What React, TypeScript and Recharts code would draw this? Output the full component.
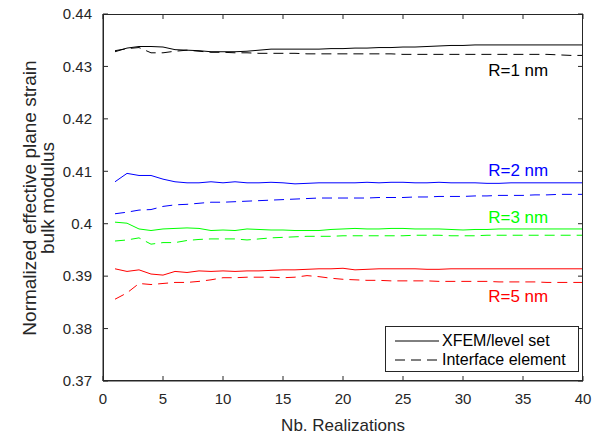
import {
  LineChart,
  Line,
  XAxis,
  YAxis,
  Legend,
  ReferenceDot,
  ReferenceLine,
} from 'recharts';

const realizations = [
  1, 2, 3, 4, 5, 6, 7, 8, 9, 10, 11, 12, 13, 14, 15, 16, 17, 18, 19, 20,
  21, 22, 23, 24, 25, 26, 27, 28, 29, 30, 31, 32, 33, 34, 35, 36, 37, 38, 39, 40,
];

// R = 1 nm
const r1Xfem = [
  0.4328, 0.4335, 0.4338, 0.4338, 0.4337, 0.4332, 0.4331, 0.433, 0.4328, 0.4328,
  0.4328, 0.4329, 0.4331, 0.4333, 0.4333, 0.4333, 0.4333, 0.4333, 0.4334, 0.4334,
  0.4335, 0.4335, 0.4336, 0.4336, 0.4337, 0.4337, 0.4338, 0.4339, 0.434, 0.434,
  0.4341, 0.4341, 0.4341, 0.4341, 0.4341, 0.4341, 0.4341, 0.4341, 0.4341, 0.4341,
];
const r1Interface = [
  0.433, 0.4334, 0.4336, 0.4326, 0.4326, 0.4329, 0.4331, 0.4329, 0.4327, 0.4327,
  0.4326, 0.4326, 0.4325, 0.4325, 0.4325, 0.4325, 0.4324, 0.4324, 0.4324, 0.4324,
  0.4324, 0.4324, 0.4324, 0.4324, 0.4323, 0.4323, 0.4323, 0.4323, 0.4323, 0.4323,
  0.4323, 0.4323, 0.4323, 0.4323, 0.4323, 0.4323, 0.4323, 0.4322, 0.4321, 0.4321,
];

// R = 2 nm
const r2Xfem = [
  0.408, 0.4096, 0.4092, 0.4092, 0.4085, 0.408, 0.4078, 0.4078, 0.408, 0.4078,
  0.408, 0.4078, 0.4078, 0.4079, 0.4078, 0.4076, 0.4077, 0.4078, 0.4078, 0.4078,
  0.4078, 0.4079, 0.4078, 0.4079, 0.4079, 0.4078, 0.4078, 0.4079, 0.4078, 0.4078,
  0.4078, 0.4077, 0.4077, 0.4078, 0.4078, 0.4078, 0.4078, 0.4078, 0.4078, 0.4078,
];
const r2Interface = [
  0.4019, 0.4022, 0.4026, 0.4027, 0.4033, 0.4036, 0.4037, 0.4039, 0.4041, 0.4041,
  0.4042, 0.4043, 0.4044, 0.4045, 0.4046, 0.4047, 0.4048, 0.4049, 0.4049, 0.4049,
  0.4049, 0.4049, 0.405, 0.405, 0.405, 0.4051, 0.4051, 0.4052, 0.4052, 0.4052,
  0.4053, 0.4053, 0.4054, 0.4054, 0.4054, 0.4055, 0.4055, 0.4056, 0.4056, 0.4056,
];

// R = 3 nm
const r3Xfem = [
  0.4003, 0.4001, 0.399, 0.3987, 0.399, 0.3991, 0.3992, 0.3991, 0.3987, 0.3988,
  0.3987, 0.399, 0.3989, 0.3988, 0.3988, 0.3987, 0.3987, 0.3987, 0.3989, 0.399,
  0.3991, 0.399, 0.399, 0.3991, 0.3991, 0.399, 0.399, 0.399, 0.3989, 0.3988,
  0.3989, 0.3989, 0.399, 0.399, 0.399, 0.399, 0.399, 0.399, 0.399, 0.399,
];
const r3Interface = [
  0.3967, 0.3969, 0.3973, 0.3961, 0.3964, 0.3964, 0.3968, 0.397, 0.3971, 0.3971,
  0.3971, 0.3969, 0.3971, 0.3973, 0.3974, 0.3975, 0.3976, 0.3976, 0.3976, 0.3977,
  0.3977, 0.3977, 0.3977, 0.3977, 0.3977, 0.3978, 0.3978, 0.3978, 0.3977, 0.3977,
  0.3977, 0.3978, 0.3978, 0.3978, 0.3978, 0.3978, 0.3978, 0.3978, 0.3978, 0.3978,
];

// R = 5 nm
const r5Xfem = [
  0.3914, 0.3909, 0.3912, 0.3904, 0.3902, 0.3909, 0.3907, 0.391, 0.3909, 0.391,
  0.3909, 0.391, 0.391, 0.3911, 0.3912, 0.3912, 0.3913, 0.3914, 0.3914, 0.3915,
  0.3912, 0.3913, 0.3914, 0.3914, 0.3914, 0.3914, 0.3913, 0.3913, 0.3914, 0.3914,
  0.3914, 0.3914, 0.3914, 0.3914, 0.3914, 0.3914, 0.3914, 0.3914, 0.3914, 0.3914,
];
const r5Interface = [
  0.3856, 0.3868, 0.3886, 0.3884, 0.3886, 0.3888, 0.3888, 0.389, 0.3893, 0.3897,
  0.3897, 0.3898, 0.3898, 0.3898, 0.3897, 0.3898, 0.3901, 0.3899, 0.3896, 0.3894,
  0.3893, 0.3892, 0.3892, 0.3891, 0.3891, 0.3891, 0.3891, 0.389, 0.389, 0.389,
  0.389, 0.389, 0.3889, 0.3889, 0.3889, 0.3889, 0.3888, 0.3888, 0.3888, 0.3888,
];

const xTicks = [0, 5, 10, 15, 20, 25, 30, 35, 40];
const yTicks = [0.37, 0.38, 0.39, 0.4, 0.41, 0.42, 0.43, 0.44];

const radiusLabels = [
  { text: 'R=1 nm', x: 37.1, y: 0.4293, color: '#000000' },
  { text: 'R=2 nm', x: 37.1, y: 0.4102, color: '#0000ff' },
  { text: 'R=3 nm', x: 37.1, y: 0.4012, color: '#00ff00' },
  { text: 'R=5 nm', x: 37.1, y: 0.3863, color: '#ff0000' },
];

const legendItems = [
  { label: 'XFEM/level set', dash: undefined },
  { label: 'Interface element', dash: '10 6' },
];

const data = realizations.map((n, i) => ({
  n,
  r1Xfem: r1Xfem[i],
  r1Interface: r1Interface[i],
  r2Xfem: r2Xfem[i],
  r2Interface: r2Interface[i],
  r3Xfem: r3Xfem[i],
  r3Interface: r3Interface[i],
  r5Xfem: r5Xfem[i],
  r5Interface: r5Interface[i],
}));

const series = [
  { key: 'r1Xfem', color: '#000000', dash: undefined },
  { key: 'r1Interface', color: '#000000', dash: '10 6' },
  { key: 'r2Xfem', color: '#0000ff', dash: undefined },
  { key: 'r2Interface', color: '#0000ff', dash: '10 6' },
  { key: 'r3Xfem', color: '#00ff00', dash: undefined },
  { key: 'r3Interface', color: '#00ff00', dash: '10 6' },
  { key: 'r5Xfem', color: '#ff0000', dash: undefined },
  { key: 'r5Interface', color: '#ff0000', dash: '10 6' },
];

const AXIS = '#262626';
const FONT = 'Liberation Sans, Arial, Helvetica, sans-serif';
const X_MIN = 0;
const X_MAX = 40;
const Y_MIN = 0.37;
const Y_MAX = 0.44;
// plot box: 480 x 367 px starting at (103, 14)
const PLOT = { left: 103, top: 14, width: 480, height: 367 };
// inward tick length (~5px) in data units
const X_TICK_LEN = ((X_MAX - X_MIN) * 5) / PLOT.width;
const Y_TICK_LEN = ((Y_MAX - Y_MIN) * 5) / PLOT.height;

const formatY = (v: number) => String(Number(v.toFixed(2)));

const BottomTick = ({ x, y, payload }: any) => (
  <text x={x} y={y + 18} dy="0.355em" textAnchor="middle" fontSize={15} fill={AXIS} fontFamily={FONT}>
    {payload.value}
  </text>
);
const LeftTick = ({ x, y, payload }: any) => (
  <text x={x - 11} y={y} dy="0.355em" textAnchor="end" fontSize={15} fill={AXIS} fontFamily={FONT}>
    {formatY(payload.value)}
  </text>
);

const LegendBox = () => (
  <div
    style={{
      width: 194,
      height: 46,
      border: `1px solid ${AXIS}`,
      background: '#fff',
      fontFamily: FONT,
      fontSize: 16,
      color: '#000',
      boxSizing: 'border-box',
      padding: '4px 0 0 9px',
    }}
  >
    {legendItems.map((item) => (
      <div key={item.label} style={{ display: 'flex', alignItems: 'center', height: 19 }}>
        <svg width={44} height={10} style={{ marginRight: 3 }}>
          <line x1={0} y1={5} x2={44} y2={5} stroke="#000" strokeWidth={1} strokeDasharray={item.dash} />
        </svg>
        <span>{item.label}</span>
      </div>
    ))}
  </div>
);

export default function App() {
  return (
    <div style={{ position: 'absolute', left: 0, top: 0, width: 603, height: 438, background: '#fff', fontFamily: FONT }}>
      <LineChart width={603} height={438} data={data} margin={{ top: 14, right: 20, bottom: 0, left: 0 }}>
        <XAxis
          dataKey="n"
          type="number"
          domain={[X_MIN, X_MAX]}
          ticks={xTicks}
          height={57}
          stroke={AXIS}
          tickLine={false}
          tickSize={0}
          tickMargin={0}
          tick={<BottomTick />}
        />
        <YAxis
          type="number"
          domain={[Y_MIN, Y_MAX]}
          ticks={yTicks}
          width={103}
          stroke={AXIS}
          tickLine={false}
          tickSize={0}
          tickMargin={0}
          tick={<LeftTick />}
        />
        <Legend
          layout="horizontal"
          verticalAlign="middle"
          align="center"
          content={<LegendBox />}
          wrapperStyle={{ position: 'absolute', left: 385, top: 326, width: 194, height: 46, zIndex: 2 }}
        />
        {series.map((s) => (
          <Line
            key={s.key}
            type="linear"
            dataKey={s.key}
            stroke={s.color}
            strokeWidth={1}
            strokeDasharray={s.dash}
            dot={false}
            activeDot={false}
            legendType="none"
            isAnimationActive={false}
          />
        ))}

        {/* inward ticks on all four sides */}
        {xTicks.map((t) => (
          <ReferenceLine
            key={`xb${t}`}
            ifOverflow="visible"
            segment={[{ x: t, y: Y_MIN }, { x: t, y: Y_MIN + Y_TICK_LEN }]}
            stroke={AXIS}
          />
        ))}
        {xTicks.map((t) => (
          <ReferenceLine
            key={`xt${t}`}
            ifOverflow="visible"
            segment={[{ x: t, y: Y_MAX }, { x: t, y: Y_MAX - Y_TICK_LEN }]}
            stroke={AXIS}
          />
        ))}
        {yTicks.map((t) => (
          <ReferenceLine
            key={`yl${t}`}
            ifOverflow="visible"
            segment={[{ x: X_MIN, y: t }, { x: X_MIN + X_TICK_LEN, y: t }]}
            stroke={AXIS}
          />
        ))}
        {yTicks.map((t) => (
          <ReferenceLine
            key={`yr${t}`}
            ifOverflow="visible"
            segment={[{ x: X_MAX - X_TICK_LEN, y: t }, { x: X_MAX, y: t }]}
            stroke={AXIS}
          />
        ))}

        {radiusLabels.map((l) => (
          <ReferenceDot
            key={l.text}
            x={l.x}
            y={l.y}
            r={0}
            fill="none"
            stroke="none"
            label={{ value: l.text, position: 'left', offset: 0, fontSize: 17, fill: l.color }}
          />
        ))}
      </LineChart>

      {/* axes box (MATLAB "box on") */}
      <div
        style={{
          position: 'absolute',
          left: PLOT.left,
          top: PLOT.top,
          width: PLOT.width,
          height: PLOT.height,
          border: `1px solid ${AXIS}`,
          boxSizing: 'border-box',
          pointerEvents: 'none',
          zIndex: 1,
        }}
      />

      <div
        style={{
          position: 'absolute',
          left: 103,
          width: 480,
          top: 415,
          textAlign: 'center',
          fontSize: 17,
          color: AXIS,
          lineHeight: '22px',
        }}
      >
        Nb. Realizations
      </div>
      <div
        style={{
          position: 'absolute',
          left: 39 - 183,
          top: 198 - 21,
          width: 366,
          height: 42,
          boxSizing: 'border-box',
          paddingTop: 3,
          transform: 'rotate(-90deg)',
          textAlign: 'center',
          fontSize: 19,
          color: AXIS,
          lineHeight: '18px',
          whiteSpace: 'nowrap',
        }}
      >
        Normalized effective plane strain
        <br />
        bulk modulus
      </div>
    </div>
  );
}
